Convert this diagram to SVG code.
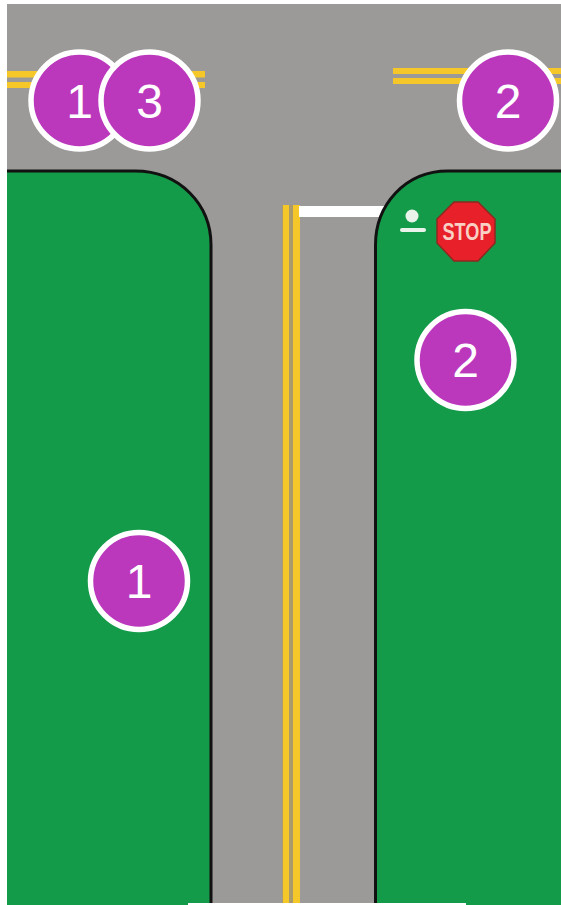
<svg xmlns="http://www.w3.org/2000/svg" width="561" height="905" viewBox="0 0 561 905">
<style>
.badge circle{fill:#bb38bd;stroke:#fff;stroke-width:5.500}
.badge text{font-family:"Liberation Sans",Arial,sans-serif;font-size:48px;fill:#fff;text-anchor:middle}
.green{fill:#149b49}
.curb{fill:none;stroke:#111;stroke-width:3}
.yellow{fill:#f6c728}
</style>
<rect width="561" height="905" fill="#fff"/>
<g id="road"><rect x="7" y="4" width="554" height="899" fill="#9b9a98"/></g>
<g id="markings">
<rect class="yellow" x="7" y="71" width="198" height="6.500"/>
<rect class="yellow" x="7" y="82" width="198" height="6"/>
<rect class="yellow" x="393" y="68" width="168" height="6"/>
<rect class="yellow" x="393" y="78" width="168" height="6"/>
<rect x="282" y="205" width="18" height="698" fill="#a89a6c"/>
<rect class="yellow" x="283" y="205" width="6" height="698"/>
<rect class="yellow" x="293" y="205" width="7" height="698"/>
<rect x="299" y="206" width="85" height="11" fill="#fff"/>
</g>
<g id="left-block">
<path class="green" d="M7 171H135C180 171 211 205 211 245V905H7Z"/>
<path class="curb" d="M7 171H135C180 171 211 205 211 245V905"/>
</g>
<g id="right-block">
<path class="green" d="M561 171H448C405 171 375.500 205 375.500 245V905H561Z"/>
<path class="curb" d="M561 171H448C405 171 375.500 205 375.500 245V905"/>
</g>
<rect x="188" y="903" width="278" height="2" fill="#fff"/>
<g id="pedestrian"><circle cx="412" cy="216" r="6.500" fill="#e9f3ea"/><rect x="400" y="228" width="26" height="4" rx="2" fill="#e9f3ea"/></g>
<g id="stop-sign">
<polygon points="454,202 478,202 495,219 495,243 478,261 454,261 437,243 437,219" fill="#e8202a" stroke="#8a2a20" stroke-width="1.500"/>
<text x="467" y="240" font-family="'Liberation Sans',Arial,sans-serif" font-size="23" font-weight="700" fill="#f8d0c4" text-anchor="middle" textLength="49" lengthAdjust="spacingAndGlyphs">STOP</text>
</g>
<g id="badge-1-top" class="badge"><circle cx="79.500" cy="100.500" r="48.500"/><text x="79.500" y="117.500">1</text></g>
<g id="badge-3-top" class="badge"><circle cx="149.500" cy="100.500" r="48.500"/><text x="149.500" y="117.500">3</text></g>
<g id="badge-2-top" class="badge"><circle cx="508" cy="100.500" r="48.500"/><text x="508" y="117.500">2</text></g>
<g id="badge-2-block" class="badge"><circle cx="465.500" cy="360" r="48.500"/><text x="465.500" y="377">2</text></g>
<g id="badge-1-block" class="badge"><circle cx="139" cy="581" r="48.500"/><text x="139" y="598">1</text></g>
<g id="connectors"></g>
</svg>
